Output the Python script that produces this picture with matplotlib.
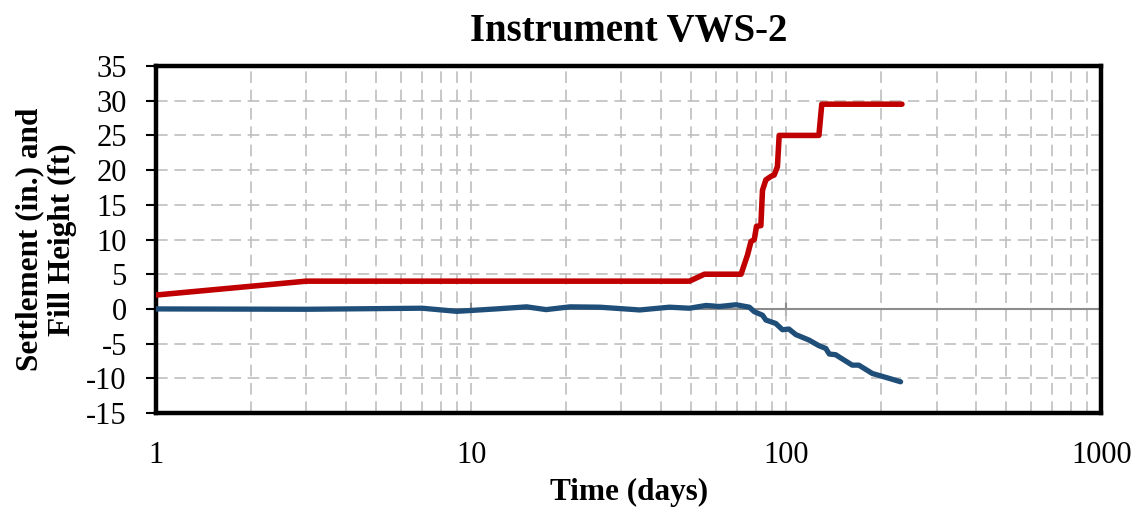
import matplotlib
matplotlib.use("Agg")
import matplotlib.pyplot as plt
from matplotlib.ticker import FixedLocator, NullFormatter, LogLocator

plt.rcParams['font.family'] = ['Liberation Serif', 'DejaVu Serif']
plt.rcParams['axes.unicode_minus'] = False

# Fill height (ft)
fill_days = [1, 3, 49.3, 55, 71.9, 75.4, 77.3, 79.2, 80.5, 83.1, 84.1, 86.2,
             89.5, 91.6, 93.8, 95, 127, 129.7, 233]
fill_vals = [2, 4, 4, 5, 5, 7.8, 9.7, 10, 11.9, 12, 17.1, 18.6,
             19.1, 19.3, 20.5, 25, 25, 29.5, 29.5]

# Settlement (in.)
sett_days = [1, 3, 7, 9, 12, 15, 17.3, 20.6, 25.6, 34.3, 42.6, 49.3, 55.7, 61.4,
             69.3, 76.4, 79.2, 84.1, 86.2, 92.7, 97.3, 102, 107.3, 118.3, 127,
             133.6, 137, 143.6, 147, 162, 170, 187.6, 212, 230.7]
sett_vals = [0, -0.05, 0.1, -0.35, 0.0, 0.3, -0.1, 0.3, 0.25, -0.15, 0.25, 0.1,
             0.5, 0.35, 0.6, 0.25, -0.4, -0.9, -1.6, -2.1, -3.0, -2.9, -3.7, -4.5,
             -5.3, -5.7, -6.5, -6.6, -6.9, -8.1, -8.1, -9.3, -10.0, -10.5]

x_ticks = [1, 10, 100, 1000]
x_labels = ['1', '10', '100', '1000']
y_ticks = list(range(-15, 40, 5))

fig = plt.figure(figsize=(11.43, 5.19), dpi=100)
ax = fig.add_axes([0.1365, 0.2042, 0.827, 0.6686])

grid_kw = dict(color='#BFBFBF', linewidth=1.2, linestyle=(0, (7, 4)))
ax.set_xscale('log')
ax.set_xlim(1, 1000)
ax.set_ylim(-15, 35)
ax.xaxis.set_major_locator(FixedLocator(x_ticks))
ax.set_xticklabels(x_labels)
ax.xaxis.set_minor_locator(LogLocator(base=10, subs=range(2, 10)))
ax.xaxis.set_minor_formatter(NullFormatter())
ax.set_yticks(y_ticks)
ax.grid(True, which='major', axis='both', **grid_kw)
ax.grid(True, which='minor', axis='x', **grid_kw)
ax.set_axisbelow(True)

ax.axhline(0, color='#8C8C8C', linewidth=1.5, zorder=1)
sec = ax.secondary_xaxis((0 - (-15)) / 50.0)
sec.spines['bottom'].set_visible(False)
sec.set_xticks(x_ticks)
sec.xaxis.set_minor_locator(FixedLocator([]))
sec.tick_params(axis='x', direction='inout', length=10, width=1.5, color='#8C8C8C',
                labelbottom=False)

ax.plot(fill_days, fill_vals, color='#C00000', linewidth=4.0, solid_capstyle='round', zorder=3)
ax.plot(sett_days, sett_vals, color='#1F4E79', linewidth=3.8, solid_capstyle='round', zorder=3)

for s in ax.spines.values():
    s.set_linewidth(3.2)
    s.set_color('black')

ax.tick_params(axis='x', which='both', length=0, pad=20, labelsize=22)
ax.tick_params(axis='y', which='major', length=7, width=1.5, direction='out',
               pad=14, labelsize=22, color='black')

ax.set_title('Instrument VWS-2', fontsize=28, fontweight='bold', pad=18)
ax.set_xlabel('Time (days)', fontsize=22.5, fontweight='bold', labelpad=6)
ax.set_ylabel('Settlement (in.) and\nFill Height (ft)', fontsize=22.5, fontweight='bold',
              labelpad=7, linespacing=1.15)

fig.savefig('out.png', dpi=100)
